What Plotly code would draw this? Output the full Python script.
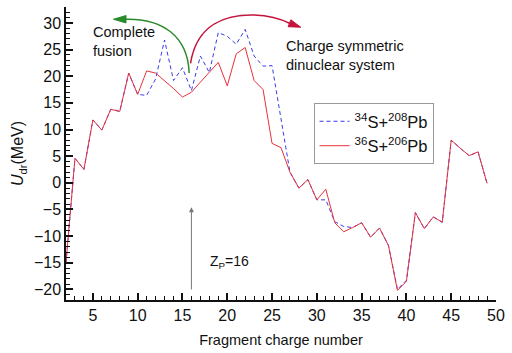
import plotly.graph_objects as go

Z = list(range(2, 50))
u_36s_206pb = [-15, 4.6, 2.5, 11.8, 9.9, 13.8, 13.4, 20.6, 16.6, 21.0, 20.6, 19.2, 17.7, 16.1,
               17.0, 18.9, 20.7, 22.6, 18.2, 24.2, 25.4, 19.2, 17.5, 7.4, 6.6, 2.0, -1.0, 0.6,
               -3.2, -1.2, -7.5, -9.2, -8.4, -7.5, -10.2, -8.5, -11.8, -20.2, -18.5, -5.6,
               -8.6, -6.4, -7.4, 8.0, 6.5, 5.1, 5.8, -0.1]
u_34s_208pb = [-15, 4.6, 2.5, 11.8, 9.9, 13.8, 13.4, 20.6, 16.6, 16.4, 19.5, 26.8, 19.2, 21.6,
               17.3, 23.8, 20.7, 28.2, 27.5, 26.0, 28.8, 23.8, 21.9, 22.0, 12.0, 2.0, -1.0, 0.6,
               -3.2, -3.2, -7.3, -8.2, -8.4, -7.5, -10.2, -8.5, -11.8, -20.0, -18.3, -5.6,
               -8.6, -6.4, -7.4, 8.0, 6.5, 5.1, 5.8, -0.1]
series_names = ["<sup>34</sup>S+<sup>208</sup>Pb", "<sup>36</sup>S+<sup>206</sup>Pb"]
x_ticks = [5, 10, 15, 20, 25, 30, 35, 40, 45, 50]
y_ticks = [-20, -15, -10, -5, 0, 5, 10, 15, 20, 25, 30]

FONT = "Liberation Sans, Arial, sans-serif"

fig = go.Figure()
fig.add_trace(go.Scatter(x=Z, y=u_34s_208pb, mode="lines", name=series_names[0],
                         line=dict(color="#3b3bea", width=1, dash="4px,3px")))
fig.add_trace(go.Scatter(x=Z, y=u_36s_206pb, mode="lines", name=series_names[1],
                         line=dict(color="#e8313c", width=1)))

GREEN = "#2a8a2a"
CRIM = "#c4143c"
shapes = [
    dict(type="path", xref="x", yref="y", path="M 15.75,20.6 C 15.6,27.5 12.8,31.0 8.4,30.7",
         line=dict(color=GREEN, width=1.5)),
    dict(type="path", xref="x", yref="y", path="M 7.3,30.7 L 8.7,31.4 L 8.7,30.0 Z",
         fillcolor=GREEN, line=dict(color=GREEN, width=1)),
    dict(type="path", xref="x", yref="y",
         path="M 15.9,22.4 C 16.6,30.0 20.0,31.6 23.0,31.5 C 25.0,31.4 26.2,30.6 27.0,29.9",
         line=dict(color=CRIM, width=1.5)),
    dict(type="path", xref="x", yref="y", path="M 28.2,29.2 L 26.8,29.3 L 27.1,30.6 Z",
         fillcolor=CRIM, line=dict(color=CRIM, width=1)),
]

annotations = [
    dict(x=16, y=-4.6, ax=16, ay=-20.3, xref="x", yref="y", axref="x", ayref="y",
         showarrow=True, arrowhead=2, arrowsize=1, arrowwidth=1, arrowcolor="#777", text=""),
    dict(x=17.9, y=-14.8, xref="x", yref="y", text="Z<sub>P</sub>=16", showarrow=False,
         xanchor="left", font=dict(size=14, color="#111", family=FONT)),
    dict(x=(91 - 66) / 436, y=(306 - 42) / 299, xref="paper", yref="paper",
         text="Complete<br>fusion", showarrow=False, xanchor="left", yanchor="middle", align="left",
         font=dict(size=14.5, color="#111", family=FONT)),
    dict(x=(287 - 66) / 436, y=(306 - 57) / 299, xref="paper", yref="paper",
         text="Charge symmetric<br>dinuclear system", showarrow=False, xanchor="left",
         yanchor="middle", align="left", font=dict(size=14.5, color="#111", family=FONT)),
]

fig.update_layout(
    width=512, height=353,
    margin=dict(l=66, r=10, t=7, b=47),
    paper_bgcolor="white", plot_bgcolor="white",
    font=dict(family=FONT, color="#111", size=15),
    shapes=shapes, annotations=annotations,
    legend=dict(x=(317 - 66) / 436, y=(306 - 105) / 299, xanchor="left", yanchor="top",
                bordercolor="#999", borderwidth=1, bgcolor="white",
                font=dict(size=16.5, family=FONT, color="#111"), tracegroupgap=0),
    xaxis=dict(range=[2, 50], tickvals=x_ticks, ticks="inside", ticklen=7, tickwidth=1.5,
               tickcolor="#111", showline=True, linecolor="#111", linewidth=1.5,
               showgrid=False, zeroline=False, tickfont=dict(size=16),
               minor=dict(ticks="inside", dtick=1, ticklen=4, tickcolor="#111", tickwidth=1),
               title=dict(text="Fragment charge number", font=dict(size=14.5), standoff=12)),
    yaxis=dict(range=[-22, 33], tickvals=y_ticks, ticks="inside", ticklen=7, tickwidth=1.5,
               tickcolor="#111", showline=True, linecolor="#111", linewidth=1.5,
               showgrid=False, zeroline=False, tickfont=dict(size=16),
               minor=dict(ticks="inside", dtick=1, ticklen=4, tickcolor="#111", tickwidth=1),
               title=dict(text="<i>U</i><sub>dr</sub>(MeV)", font=dict(size=16), standoff=6)),
)

fig.write_html("out.html")
